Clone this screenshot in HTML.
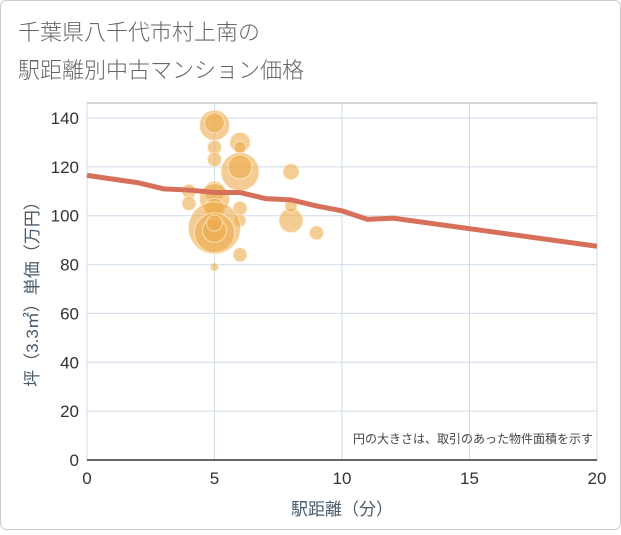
<!DOCTYPE html>
<html><head><meta charset="utf-8"><style>
body{margin:0;background:#fff;}
#wrap{position:relative;width:621px;height:530px;font-family:"Liberation Sans","Noto Sans CJK JP",sans-serif;}
</style></head><body>
<div id="wrap">
<svg width="621" height="530" id="svg">
<rect x="0.5" y="0.5" width="620" height="529" rx="6" fill="#fff" stroke="#ccc"/>
<text x="18" y="40" font-size="22" fill="#666" font-weight="300">千葉県八千代市村上南の</text>
<text x="18" y="78" font-size="22" fill="#666" font-weight="300">駅距離別中古マンション価格</text>
<g id="grid"></g><g id="bubbles"></g><g id="line"></g><g id="axes"></g>
<text x="593" y="443" font-size="12" fill="#444" text-anchor="end">円の大きさは、取引のあった物件面積を示す</text>
<text x="342" y="515" font-size="17" fill="#4a5a6a" text-anchor="middle">駅距離（分）</text>
<text transform="translate(38,290) rotate(-90)" font-size="17" fill="#4a5a6a" text-anchor="middle">坪（3.3㎡）単価（万円）</text>
</svg></div>
<script>
const xTicks=[0,5,10,15,20];
const yTicks=[0,20,40,60,80,100,120,140];
const bubX=[5,5,6,6,5,5,6,6,8,4,4,5,5,5,6,6,8,8,5,5,5,5,9,6,5];
const bubY=[137,138,130,128,128,123,118,120,118,110,105,110,107,103,103,98,98,104,95,93,94,97,93,84,79];
const bubR=[15,10,10,6,7,7,19,12,8,7,7,10,15,10,7,6,12,6,26,20,12,8,7,7,4];
const lineX=[0,2,3,4,5,6,7,8,9,10,11,12,20];
const lineY=[116.5,113.5,111,110.5,109.5,109.5,107,106.5,104,102,98.5,99,87.5];
const L=87,R=597,T=103,B=460;
const sx=v=>L+(R-L)*v/20, sy=v=>B-(B-118)*v/140;
const NS="http://www.w3.org/2000/svg";
function mk(p,t,a){const e=document.createElementNS(NS,t);for(const k in a)e.setAttribute(k,a[k]);document.getElementById(p).appendChild(e);return e;}
let e=mk('grid','rect',{x:L,y:T,width:R-L,height:B-T,fill:'none',stroke:'#aaa'});


yTicks.forEach(v=>{let g=mk('grid','line',{x1:L,x2:R,y1:sy(v),y2:sy(v),stroke:'#cfdbe8'});


let t=mk('axes','text',{x:L-8,y:sy(v)+6,'text-anchor':'end','font-size':17,fill:'#333'});t.textContent=v;

});
xTicks.forEach(v=>{let g=mk('grid','line',{x1:sx(v),x2:sx(v),y1:T,y2:B,stroke:'#cfdbe8'});


let t=mk('axes','text',{x:sx(v),y:B+24,'text-anchor':'middle','font-size':17,fill:'#333'});t.textContent=v;

});
let ax=mk('axes','line',{x1:L,x2:R,y1:B,y2:B,stroke:'#333','stroke-width':1.5});


bubX.forEach((x,i)=>{let c=mk('bubbles','circle',{cx:sx(x),cy:sy(bubY[i]),r:bubR[i],fill:'rgba(236,172,76,0.6)',stroke:'rgba(255,240,210,0.7)'});

});
let p=mk('line','polyline',{points:lineX.map((x,i)=>sx(x)+','+sy(lineY[i])).join(' '),fill:'none',stroke:'#d7705a','stroke-width':5});


</script></body></html>
